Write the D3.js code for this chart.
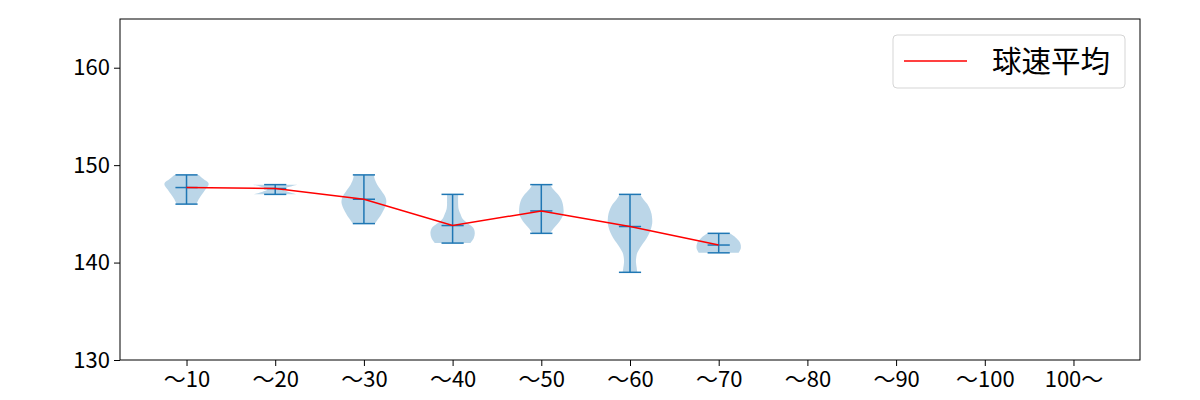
<!DOCTYPE html>
<html>
<head>
<meta charset="utf-8">
<script src="https://cdn.jsdelivr.net/npm/d3@7"></script>
<style>
  body { margin: 0; background: #fff; }
  svg text { font-family: "Noto Sans CJK JP", "Noto Sans", sans-serif; fill: #000; }
</style>
</head>
<body>
<div id="chart"></div>
<script>
// カテゴリ（球数）
var categories = ["〜10", "〜20", "〜30", "〜40", "〜50", "〜60", "〜70", "〜80", "〜90", "〜100", "100〜"];
// 平均球速
var meanSpeed = [147.7, 147.6, 146.5, 143.8, 145.3, 143.7, 141.8];
var maxSpeed = [149, 148, 149, 147, 148, 147, 143];
var minSpeed = [146, 147, 144, 142, 143, 139, 141];
// 分布の形 [球速, 相対幅]
var profiles = [
  [[146, 0.45], [146.5, 0.55], [147, 0.7], [147.5, 0.85], [148.1, 1.0], [148.6, 0.75], [149, 0.55]],
  [[147, 1.0], [147.25, 0.6], [147.5, 0.35], [147.75, 0.6], [148, 1.0]],
  [[144, 0.5], [145, 0.8], [146, 1.0], [146.5, 1.0], [147, 0.9], [148, 0.6], [148.5, 0.5], [149, 0.45]],
  [[142, 0.8], [142.5, 0.95], [143, 1.0], [143.5, 0.95], [144, 0.7], [144.5, 0.45], [145, 0.35], [145.5, 0.27], [146, 0.25], [147, 0.25]],
  [[143, 0.4], [143.5, 0.55], [144, 0.75], [144.5, 0.9], [145, 1.0], [145.5, 1.0], [146, 0.97], [146.5, 0.9], [147, 0.75], [147.5, 0.55], [148, 0.4]],
  [[139, 0.33], [139.5, 0.3], [140, 0.27], [140.5, 0.28], [141, 0.33], [141.5, 0.45], [142, 0.6], [142.5, 0.75], [143, 0.87], [143.5, 0.95], [144, 1.0], [144.5, 1.0], [145, 0.97], [145.5, 0.9], [146, 0.78], [146.5, 0.6], [147, 0.45]],
  [[141, 0.9], [141.5, 1.0], [142, 0.97], [142.5, 0.8], [143, 0.5]]
];
var yTicks = [130, 140, 150, 160];
var legendLabel = "球速平均";

var width = 1200, height = 400;
var margin = {top: 19, right: 60, bottom: 40, left: 120};
var blue = "#1f77b4";

var svg = d3.select("#chart").append("svg")
  .attr("width", width)
  .attr("height", height);

var x = d3.scaleLinear()
  .domain([0.25, categories.length + 0.75])
  .range([margin.left, width - margin.right]);

var y = d3.scaleLinear()
  .domain([130, 165])
  .range([height - margin.bottom, margin.top]);

var halfW = x(1.25) - x(1);   // 最大幅の半分
var capW = x(1.125) - x(1);

// バイオリン
var area = d3.area()
  .curve(d3.curveCatmullRom)
  .y(function(d) { return y(d[0]); });

profiles.forEach(function(p, i) {
  var cx = x(i + 1);
  svg.append("path")
    .datum(p)
    .attr("fill", blue)
    .attr("fill-opacity", 0.3)
    .attr("d", area
      .x0(function(d) { return cx - d[1] * halfW; })
      .x1(function(d) { return cx + d[1] * halfW; }));

  var g = svg.append("g").attr("stroke", blue).attr("stroke-width", 1.5);
  g.append("line")
    .attr("x1", cx).attr("x2", cx)
    .attr("y1", y(minSpeed[i])).attr("y2", y(maxSpeed[i]));
  [minSpeed[i], maxSpeed[i], meanSpeed[i]].forEach(function(v) {
    g.append("line")
      .attr("x1", cx - capW).attr("x2", cx + capW)
      .attr("y1", y(v)).attr("y2", y(v));
  });
});

// 平均線
svg.append("path")
  .datum(meanSpeed)
  .attr("fill", "none")
  .attr("stroke", "red")
  .attr("stroke-width", 1.5)
  .attr("d", d3.line()
    .x(function(d, i) { return x(i + 1); })
    .y(function(d) { return y(d); }));

// 軸
var xAxis = svg.append("g")
  .attr("transform", "translate(0," + (height - margin.bottom) + ")")
  .call(d3.axisBottom(x)
    .tickValues(d3.range(1, categories.length + 1))
    .tickFormat(function(d) { return categories[d - 1]; })
    .tickSize(6).tickPadding(5));

var yAxis = svg.append("g")
  .attr("transform", "translate(" + margin.left + ",0)")
  .call(d3.axisLeft(y).tickValues(yTicks).tickSize(6).tickPadding(4));

[xAxis, yAxis].forEach(function(a) {
  a.select(".domain").remove();
  a.selectAll("line").attr("stroke", "#000").attr("stroke-width", 1);
  a.selectAll("text").attr("font-size", 22).attr("fill", "#000");
});

// 枠
svg.append("rect")
  .attr("x", margin.left).attr("y", margin.top)
  .attr("width", width - margin.left - margin.right)
  .attr("height", height - margin.top - margin.bottom)
  .attr("fill", "none")
  .attr("stroke", "#000")
  .attr("stroke-width", 1);

// 凡例
var legend = svg.append("g").attr("transform", "translate(893,35)");
legend.append("rect")
  .attr("width", 232).attr("height", 53)
  .attr("rx", 4)
  .attr("fill", "#fff").attr("fill-opacity", 0.8)
  .attr("stroke", "#d5d5d5");
legend.append("line")
  .attr("x1", 11).attr("x2", 74)
  .attr("y1", 26).attr("y2", 26)
  .attr("stroke", "red").attr("stroke-width", 1.5);
legend.append("text")
  .attr("x", 99).attr("y", 37)
  .attr("font-size", 29.5)
  .text(legendLabel);
</script>
</body>
</html>
